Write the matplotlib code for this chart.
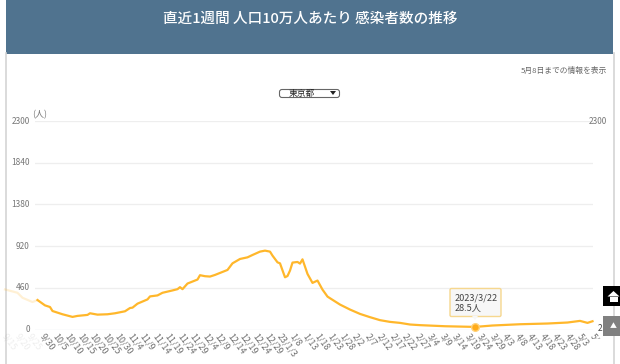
import matplotlib
matplotlib.use('Agg')
import matplotlib.pyplot as plt
import matplotlib.dates as mdates
from matplotlib.patches import Rectangle, FancyBboxPatch, Polygon
from matplotlib.transforms import Bbox
from datetime import date, timedelta

plt.rcParams['font.family'] = ['Noto Sans CJK JP', 'DejaVu Sans']

TITLE = '直近1週間 人口10万人あたり 感染者数の推移'
NOTE = '5月8日までの情報を表示'
PREF = '東京都'
UNIT = '(人)'
Y_TICKS = [0, 460, 920, 1380, 1840, 2300]
TOOLTIP = ['2023/3/22', '28.5人']

DATES = ['2022-09-15','2022-09-20','2022-09-22','2022-09-26','2022-09-28','2022-10-01','2022-10-03','2022-10-04',
 '2022-10-08','2022-10-12','2022-10-14','2022-10-18','2022-10-19','2022-10-22','2022-10-26','2022-10-29',
 '2022-11-02','2022-11-04','2022-11-05','2022-11-07','2022-11-11','2022-11-12','2022-11-15','2022-11-17',
 '2022-11-21','2022-11-23','2022-11-24','2022-11-25','2022-11-27','2022-12-01','2022-12-02','2022-12-04',
 '2022-12-06','2022-12-08','2022-12-10','2022-12-13','2022-12-15','2022-12-18','2022-12-21','2022-12-23',
 '2022-12-26','2022-12-28','2022-12-30','2022-12-31','2023-01-02','2023-01-03','2023-01-05','2023-01-06','2023-01-07',
 '2023-01-08','2023-01-10','2023-01-11','2023-01-12','2023-01-14','2023-01-16','2023-01-18','2023-01-20',
 '2023-01-22','2023-01-23','2023-01-27','2023-01-31','2023-02-04','2023-02-08','2023-02-12','2023-02-16',
 '2023-02-20','2023-02-24','2023-02-28','2023-03-10','2023-03-22','2023-03-29','2023-04-09','2023-04-20',
 '2023-04-28','2023-05-03','2023-05-06','2023-05-08']
VALUES = [442,405,350,303,325,266,248,204,168,139,150,161,179,164,168,179,201,237,241,285,332,365,376,405,
 431,445,467,445,507,551,599,588,584,602,624,657,730,778,796,822,859,870,859,815,741,730,576,590,650,738,745,
 727,774,613,514,540,440,363,345,275,220,172,136,103,84,73,55,48,36,28.5,44,58,66,77,95,73,91]

TICK_START = date(2022, 9, 15)
TICK_END = date(2023, 5, 8)
TICK_STEP_DAYS = 5
VISIBLE_START = date(2022, 9, 28)
MARKED = date(2023, 3, 22)

W, H = 620, 364
fig = plt.figure(figsize=(W/100, H/100), dpi=100, facecolor='white')

# page layer in pixel units
bg = fig.add_axes([0, 0, 1, 1], zorder=0)
bg.set_xlim(0, W); bg.set_ylim(H, 0); bg.axis('off')
bg.add_patch(Rectangle((6, 0), 607, 53.5, color='#50738f', lw=0))
bg.plot([6, 6], [53, H], color='#d4d4d4', lw=1.2)
bg.plot([613.5, 613.5], [53, H], color='#d4d4d4', lw=1.2)
bg.text(310, 19, TITLE, color='white', fontsize=10.5, ha='center', va='center', weight='medium')
bg.text(607, 71, NOTE, color='#666666', fontsize=5.6, ha='right', va='center')
bg.add_patch(FancyBboxPatch((279.5, 89.5), 60, 8, boxstyle='round,pad=0,rounding_size=2.5',
                            fc='white', ec='#666666', lw=0.8))
bg.text(302, 93.5, PREF, color='#222222', fontsize=6.3, ha='center', va='center')
bg.add_patch(Polygon([(330, 91), (336, 91), (333, 95)], color='#222222', lw=0))

# chart
L, R, T, B = 35, 593, 121, 329.5
ax = fig.add_axes([L/W, 1-B/H, (R-L)/W, (B-T)/H], zorder=1)
ax.patch.set_alpha(0)
x = [mdates.date2num(date.fromisoformat(d)) for d in DATES]
px_per_day = 2.5
x0 = mdates.date2num(date(2022, 9, 30)) - (42.5-L)/px_per_day
ax.set_xlim(x0, x0 + (R-L)/px_per_day)
ax.set_ylim(0, 2300)
for s in ax.spines.values():
    s.set_visible(False)
ax.set_yticks(Y_TICKS)
ax.set_yticklabels([])
ax.tick_params(axis='both', length=0)
ax.set_xticks([])
ax.grid(False)
for v in Y_TICKS[1:]:
    ax.axhline(v, color='#eeeeee', lw=0.9, zorder=1)
ax.axhline(0, color='#dbe6ef', lw=0.9, zorder=1)

vis = mdates.date2num(VISIBLE_START)
first = [i for i, d in enumerate(x) if d >= vis][0]
ax.plot(x[:first+1], VALUES[:first+1], color='#ffb72b', lw=1.6, alpha=0.2, clip_on=False,
        solid_joinstyle='round', zorder=3)
ax.plot(x[first:], VALUES[first:], color='#ffb72b', lw=1.6, clip_on=False,
        solid_joinstyle='round', zorder=3)
mx = mdates.date2num(MARKED)
ax.plot([mx], [VALUES[DATES.index(MARKED.isoformat())]], 'o', ms=5.5, color='#ffab1a', mec='#ffd27a',
        mew=1, clip_on=False, zorder=5)

# y labels
for v in Y_TICKS:
    ax.annotate(str(v), (0, v), xycoords=('axes fraction', 'data'), xytext=(-3.7, 0), textcoords='offset points',
                ha='right', va='center', fontsize=6, color='#777777', annotation_clip=False)
ax.annotate(str(Y_TICKS[-1]), (1, 2300), xycoords=('axes fraction', 'data'), xytext=(-3, 0),
            textcoords='offset points', ha='left', va='center', fontsize=6, color='#777777', annotation_clip=False)
ax.annotate(UNIT, (0, 2300), xycoords=('axes fraction', 'data'), xytext=(3.6, 4.3), textcoords='offset points',
            ha='center', va='center', fontsize=6.5, color='#777777', annotation_clip=False)
ax.annotate('2', (1, 0), xycoords='axes fraction', xytext=(3.6, 1), textcoords='offset points',
            ha='left', va='center', fontsize=6, color='#444444', annotation_clip=False)

# date labels; the last one runs out of the chart's canvas and is cut off
clip = Bbox([[0, H-339], [W, H]])
d = TICK_START
prev_year = d.year
while d <= TICK_END:
    lab = f'{d.month}/{d.day}'
    if d.year != prev_year:
        lab = f'{d.year % 100}/{lab}'
        prev_year = d.year
    a = 0.12 if d < date(2022, 9, 30) else 1.0
    t = ax.annotate(lab, (mdates.date2num(d), 0), xycoords='data', xytext=(-0.5, -4), textcoords='offset points',
                    rotation=-53, rotation_mode='anchor', ha='left', va='center', fontsize=6.4,
                    color='#707070', alpha=a, annotation_clip=False)
    if d == TICK_END:
        t.set_clip_box(clip)
        t.set_clip_on(True)
    d += timedelta(days=TICK_STEP_DAYS)

# overlay: tooltip and side buttons
top = fig.add_axes([0, 0, 1, 1], zorder=2)
top.set_xlim(0, W); top.set_ylim(H, 0); top.axis('off'); top.patch.set_alpha(0)
top.add_patch(FancyBboxPatch((450, 288.5), 51, 28, boxstyle='round,pad=0,rounding_size=1.5',
                             fc='#f7f7f7', ec='#f6d78e', lw=1))
top.add_patch(Polygon([(472, 316), (478, 316), (475, 320)], fc='#f7f7f7', ec='none'))
top.text(455, 298, TOOLTIP[0], fontsize=6.6, color='#444444', ha='left', va='center')
top.text(455, 308, TOOLTIP[1], fontsize=6.6, color='#444444', ha='left', va='center')
top.add_patch(Rectangle((603, 285.5), 17, 20.5, color='black', lw=0))
top.add_patch(Polygon([(607.5, 296.5), (613.5, 291), (619.5, 296.5)], fc='white', ec='none'))
top.add_patch(Rectangle((609.5, 296.5), 8, 5, fc='white', lw=0))
top.add_patch(Rectangle((603, 316), 17, 20, color='#808080', lw=0))
top.text(613, 326, '▲', color='white', fontsize=5, ha='center', va='center')

fig.savefig('out.png', dpi=100)
